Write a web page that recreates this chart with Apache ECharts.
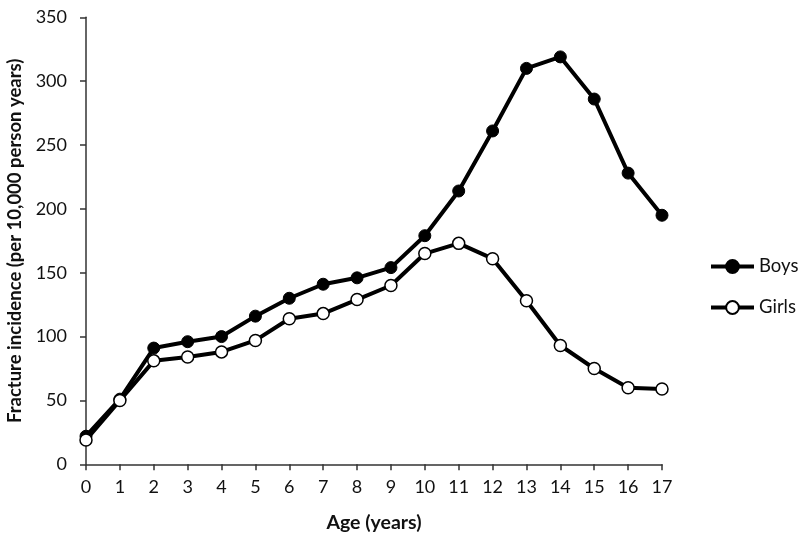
<!DOCTYPE html>
<html>
<head>
<meta charset="utf-8">
<script src="https://cdn.jsdelivr.net/npm/echarts@6/dist/echarts.min.js"></script>
<style>html,body{margin:0;padding:0;background:#fff;}#c{width:800px;height:542px;}</style>
</head>
<body>
<div id="c"></div>
<script>
const ages = ['0','1','2','3','4','5','6','7','8','9','10','11','12','13','14','15','16','17'];
const boys = [22, 51, 91, 96, 100, 116, 130, 141, 146, 154, 179, 214, 261, 310, 319, 286, 228, 195];
const girls = [19, 50, 81, 84, 88, 97, 114, 118, 129, 140, 165, 173, 161, 128, 93, 75, 60, 59];
const yTicks = [0, 50, 100, 150, 200, 250, 300, 350];

const FONT = 'Lato';
const axisColor = '#333';
const chart = echarts.init(document.getElementById('c'), null, {renderer: 'canvas'});
chart.setOption({
  animation: false,
  backgroundColor: '#fff',
  textStyle: {fontFamily: FONT},
  grid: {left: 86, right: 138, top: 17.3, bottom: 77.7, containLabel: false, outerBoundsMode: 'none'},
  legend: {
    orient: 'vertical', left: 704, top: 252,
    itemWidth: 43, itemHeight: 16, itemGap: 22,
    lineStyle: {width: 4},
    textStyle: {fontFamily: FONT, fontSize: 18.5, color: '#111'},
    data: ['Boys', 'Girls']
  },
  xAxis: {
    type: 'category', data: ages, boundaryGap: false,
    name: 'Age (years)', nameLocation: 'middle', nameGap: 48,
    nameTextStyle: {fontFamily: FONT, fontWeight: 'bold', fontSize: 19.5, color: '#111'},
    axisLine: {lineStyle: {color: axisColor, width: 1.5}},
    axisTick: {show: true, inside: false, length: 6, alignWithLabel: true, lineStyle: {color: axisColor, width: 1.5}},
    axisLabel: {margin: 14, fontFamily: FONT, fontSize: 18, color: '#111'},
    splitLine: {show: false}
  },
  yAxis: {
    type: 'value', min: yTicks[0], max: yTicks[yTicks.length - 1], interval: 50,
    name: 'Fracture incidence (per 10,000 person years)', nameLocation: 'middle', nameGap: 60,
    nameTextStyle: {fontFamily: FONT, fontWeight: 'bold', fontSize: 18.5, color: '#111'},
    axisLine: {show: true, lineStyle: {color: axisColor, width: 1.5}},
    axisTick: {show: true, inside: false, length: 6, lineStyle: {color: axisColor, width: 1.5}},
    axisLabel: {margin: 19, fontFamily: FONT, fontSize: 18, color: '#111'},
    splitLine: {show: false}
  },
  series: [
    {
      name: 'Boys', type: 'line', data: boys,
      symbol: 'circle', symbolSize: 12,
      lineStyle: {color: '#000', width: 4},
      itemStyle: {color: '#000', borderColor: '#000', borderWidth: 1}
    },
    {
      name: 'Girls', type: 'line', data: girls,
      symbol: 'circle', symbolSize: 12,
      lineStyle: {color: '#000', width: 4},
      itemStyle: {color: '#fff', borderColor: '#000', borderWidth: 1.5}
    }
  ]
});
</script>
</body>
</html>
